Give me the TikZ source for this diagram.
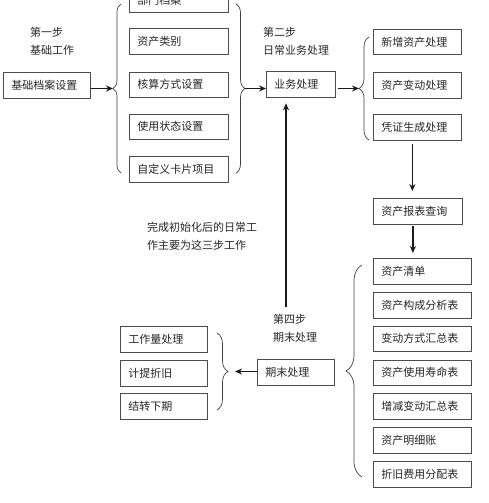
\documentclass[tikz,border=0pt]{standalone}
\usepackage{fontspec}
\setmainfont{Noto Sans CJK SC}
\usetikzlibrary{arrows.meta, calc, decorations.pathreplacing}

\begin{document}
\begin{tikzpicture}[x=1pt, y=-1pt, >={Stealth[length=7pt, width=6pt]},
    kuang/.style={draw=black!70, line width=0.8pt, anchor=north west, minimum height=25.5pt,
      inner xsep=8pt, inner ysep=0pt, align=left, text=black!85, font=\fontsize{11}{13}\selectfont},
    jiantou/.style={->, line width=1.5pt, black!90},
    kuohao/.style={decorate, line width=0.7pt, black!75},
    wenzi/.style={anchor=west, align=left, inner sep=0pt, text=black!85, font=\fontsize{11}{18}\selectfont}]

    \useasboundingbox (0,0) rectangle (488,503);

    % 1. 第一步 基础工作
    \node[wenzi] (buzhou1) at (30,41) {第一步\\基础工作};
    \node[kuang, text width=71pt] (jichu) at (3,72) {基础档案设置};
    \draw[kuohao, decoration={brace, amplitude=8pt}] (121,173) -- (121,4);
    \coordinate (kuo1) at (113,88.5);
    \draw[jiantou] (jichu.east |- kuo1) -- (kuo1);
    % 基础设置各项
    \node[kuang, text width=83pt] (bumen) at (129,-13) {部门档案};
    \node[kuang, text width=83pt] (leibie) at (129,28.5) {资产类别};
    \node[kuang, text width=83pt] (hesuan) at (129,71.5) {核算方式设置};
    \node[kuang, text width=83pt] (zhuangtai) at (129,113.5) {使用状态设置};
    \node[kuang, text width=83pt] (kapian) at (129,156) {自定义卡片项目};
    \draw[kuohao, decoration={brace, amplitude=9pt}] (236,4) -- (236,173);
    \coordinate (kuo2) at (245,88.5);

    % 2. 第二步 日常业务处理
    \node[wenzi] (buzhou2) at (263,41) {第二步\\日常业务处理};
    \node[kuang, text width=53pt] (yewu) at (266,71) {业务处理};
    \draw[jiantou] (kuo2) -- (kuo2 -| yewu.west);
    \draw[kuohao, decoration={brace, amplitude=10pt}] (369,140) -- (369,37);
    \coordinate (kuo3) at (359,88.5);
    \draw[jiantou, shorten <=2pt] (yewu.east |- kuo3) -- (kuo3);
    \node[kuang, text width=72pt] (xinzeng) at (373,29) {新增资产处理};
    \node[kuang, text width=72pt] (biandong) at (373,72) {资产变动处理};
    \node[kuang, text width=72pt] (pingzheng) at (373,114) {凭证生成处理};

    % 3. 报表查询
    \node[kuang, text width=73pt] (baobiao) at (373,198) {资产报表查询};
    \draw[jiantou, shorten <=4pt, shorten >=7pt] ([xshift=-5pt]pingzheng.south) -- ([xshift=-5pt]pingzheng.south |- baobiao.north);
    \node[kuang, text width=82pt] (qingdan) at (373,258) {资产清单};
    \node[kuang, text width=82pt] (goucheng) at (373,292) {资产构成分析表};
    \node[kuang, text width=82pt] (fangshi) at (373,325.5) {变动方式汇总表};
    \node[kuang, text width=82pt] (shouming) at (373,359.5) {资产使用寿命表};
    \node[kuang, text width=82pt] (zengjian) at (373,393) {增减变动汇总表};
    \node[kuang, text width=82pt] (mingxi) at (373,427) {资产明细账};
    \node[kuang, text width=82pt] (zhejiu) at (373,461) {折旧费用分配表};
    \draw[jiantou, shorten <=2pt, shorten >=5pt] ([xshift=-5pt]baobiao.south) -- ([xshift=-5pt]baobiao.south |- qingdan.north);
    \draw[kuohao, decoration={brace, amplitude=16pt}] (362,477) -- (362,265);

    % 4. 第四步 期末处理
    \node[wenzi] (buzhou4) at (273,328.5) {第四步\\期末处理};
    \node[kuang, text width=61pt] (qimo) at (257,359) {期末处理};
    \coordinate (shang) at (286,307);
    \draw[jiantou, shorten >=6pt] (shang) -- (shang |- yewu.south);
    \node[wenzi] (shuoming) at (147,236) {完成初始化后的日常工\\作主要为这三步工作};
    \draw[kuohao, decoration={brace, amplitude=11pt}] (217,333) -- (217,410);
    \coordinate (kuo5) at (228,371.5);
    \draw[jiantou, shorten >=7pt] (qimo.west |- kuo5) -- (kuo5);
    \node[kuang, text width=71pt] (gongzuoliang) at (120,326) {工作量处理};
    \node[kuang, text width=71pt] (jiti) at (120,360) {计提折旧};
    \node[kuang, text width=71pt] (jiezhuan) at (120,393) {结转下期};

\end{tikzpicture}
\end{document}
